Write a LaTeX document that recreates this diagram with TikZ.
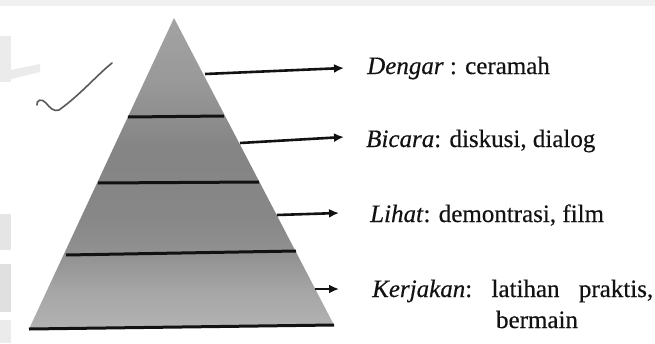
\documentclass[tikz,border=0pt]{standalone}
\usepackage{fontspec}
\setmainfont{Liberation Serif}[FakeBold=0.4]
\usetikzlibrary{arrows.meta}

\definecolor{ink}{HTML}{121212}
\definecolor{wmark}{HTML}{EBEBEB}

% vertical grey shading of the pyramid body (bottom stop first)
\pgfdeclareverticalshading{pyramidgrey}{100bp}{%
  color(0bp)=(black!30);
  color(25bp)=(black!30);
  color(31bp)=(black!35);
  color(37bp)=(black!43);
  color(43bp)=(black!47);
  color(54bp)=(black!48);
  color(65bp)=(black!40);
  color(75bp)=(black!36);
  color(100bp)=(black!36)}

\tikzset{
  band/.style={draw=ink, line width=3pt},
  pointer/.style={draw=ink, line width=2.6pt, -{Latex[length=10pt,width=9pt]}},
  label/.style={anchor=base west, inner sep=0pt, text=ink,
                font=\fontsize{25}{29}\selectfont},
}

\begin{document}
\begin{tikzpicture}[x=1pt, y=-1pt]
  \useasboundingbox (0,0) rectangle (655,343);
  \fill[white] (0,0) rectangle (655,343);

  % faint page-edge marks
  \fill[black!6] (0,0) rectangle (655,6);
  \fill[wmark] (0,36) rectangle (11,82);
  \fill[wmark] (11,70) -- (40,64) -- (40,72) -- (11,79) -- cycle;
  \fill[black!10] (0,214) rectangle (11,250);
  \fill[black!12] (0,264) rectangle (11,312);
  \fill[black!8] (0,320) rectangle (11,343);

  % pyramid corners
  \coordinate (apex) at (174,18);
  \coordinate (bl) at (29,329);
  \coordinate (br) at (334,325);

  \shade[shading=pyramidgrey] (apex) -- (br) -- (bl) -- cycle;

  % level dividers and base
  \coordinate (l1a) at (128,117); \coordinate (l1b) at (224,116);
  \coordinate (l2a) at (98,183);  \coordinate (l2b) at (259,182);
  \coordinate (l3a) at (66,255);  \coordinate (l3b) at (296,251);
  \draw[band] (l1a) -- (l1b);
  \draw[band] (l2a) -- (l2b);
  \draw[band] (l3a) -- (l3b);
  \draw[band] (bl) -- (br);

  % labels
  \node[label] (dengar) at (367,74) {\textit{Dengar} : ceramah};
  \node[label] (bicara) at (366,147) {\textit{Bicara}: diskusi, dialog};
  \node[label] (lihat) at (370,222) {\textit{Lihat}: demontrasi, film};
  \node[label] (kerja) at (372,297)
    {\hbox to 281pt{\textit{Kerjakan}:\hfill latihan\hfill praktis,}};
  \node[label, anchor=base] (main) at (537,328) {bermain};

  % arrows from the pyramid sides to the labels
  \coordinate (s1) at (205,74);
  \coordinate (s2) at (240,143);
  \coordinate (s3) at (277,215);
  \coordinate (s4) at (315,289);
  \draw[pointer] (s1) -- ([xshift=-23pt,yshift=6pt]dengar.base west);
  \draw[pointer] (s2) -- ([xshift=-22pt,yshift=10pt]bicara.base west);
  \draw[pointer] (s3) -- ([xshift=-31pt,yshift=9pt]lihat.base west);
  \draw[pointer] (s4) -- ([xshift=-33pt,yshift=8pt]kerja.base west);

  % pen tick at the left
  \draw[black!65, line width=1.6pt, line cap=round]
    (37,105) .. controls (36,100) and (42,98) .. (46,103)
    .. controls (50,108) and (54,112) .. (59,110)
    .. controls (80,95) and (96,76) .. (112,63);
\end{tikzpicture}
\end{document}
